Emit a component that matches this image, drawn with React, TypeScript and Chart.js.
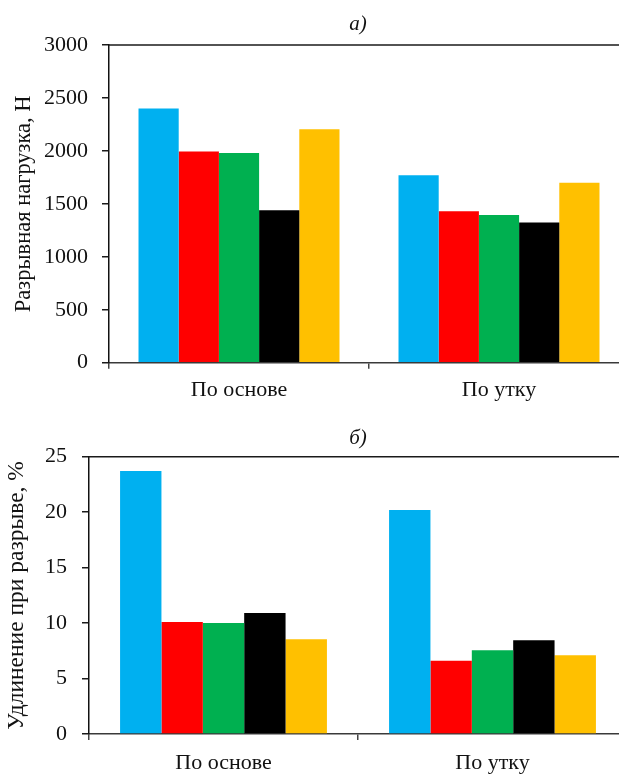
import React, { useEffect, useRef } from "react";
import { Chart, registerables } from "chart.js";

Chart.register(...registerables);

// ---- data ----
const categories = ["По основе", "По утку"];
const seriesNames = ["Образец 1", "Образец 2", "Образец 3", "Образец 4", "Образец 5"];
const seriesColors = ["#00B0F0", "#FF0000", "#00B050", "#000000", "#FFC000"];

const loadS1 = [2400, 1770];
const loadS2 = [1995, 1430];
const loadS3 = [1980, 1395];
const loadS4 = [1440, 1325];
const loadS5 = [2205, 1700];

const elongS1 = [23.7, 20.2];
const elongS2 = [10.1, 6.6];
const elongS3 = [10.0, 7.55];
const elongS4 = [10.9, 8.45];
const elongS5 = [8.55, 7.1];

const loadAxis = { min: 0, max: 3000, step: 500 };
const elongAxis = { min: 0, max: 25, step: 5 };

const titleA = "а)";
const titleB = "б)";
const yTitleA = "Разрывная нагрузка, Н";
const yTitleB = "Удлинение при разрыве, %";

const FONT = "'Liberation Serif', 'Times New Roman', serif";

const topBorder = {
  id: "topBorder",
  afterDraw(chart: any) {
    const { ctx, chartArea } = chart;
    ctx.save();
    ctx.strokeStyle = "#1a1a1a";
    ctx.lineWidth = 1.5;
    ctx.beginPath();
    ctx.moveTo(chartArea.left, chartArea.top);
    ctx.lineTo(chartArea.right + 20, chartArea.top);
    ctx.stroke();
    ctx.restore();
  },
};

type PanelProps = {
  series: number[][];
  axis: { min: number; max: number; step: number };
  yTitle: string;
  yTitleSize: number;
  width: number;
  height: number;
  padTop: number;
  yAxisWidth: number;
  xAxisHeight: number;
  yTickPad: number;
  yTitlePad: number;
  xTickPad: number;
  catPct: number;
};

function BarPanel(p: PanelProps) {
  const ref = useRef<HTMLCanvasElement | null>(null);
  useEffect(() => {
    if (!ref.current) return;
    const chart = new Chart(ref.current, {
      type: "bar",
      data: {
        labels: categories,
        datasets: p.series.map((vals, i) => ({
          label: seriesNames[i],
          data: vals,
          backgroundColor: seriesColors[i],
          borderWidth: 0,
          categoryPercentage: p.catPct,
          barPercentage: 1,
        })),
      },
      options: {
        responsive: false,
        animation: false,
        devicePixelRatio: 1,
        layout: { padding: { top: p.padTop, left: 0, right: 0, bottom: 0 } },
        plugins: {
          legend: { display: false },
          title: { display: false },
          tooltip: { enabled: false },
        },
        scales: {
          x: {
            type: "category",
            grid: {
              display: true,
              offset: true,
              drawOnChartArea: false,
              drawTicks: true,
              tickLength: 6,
              color: "#444",
              lineWidth: 1.5,
            },
            border: { display: true, color: "#3a3a3a", width: 1.5 },
            ticks: {
              color: "#111",
              padding: p.xTickPad,
              font: { family: FONT, size: 22 },
              maxRotation: 0,
            },
            afterFit(scale: any) {
              scale.height = p.xAxisHeight;
            },
          },
          y: {
            min: p.axis.min,
            max: p.axis.max,
            grid: {
              display: true,
              drawOnChartArea: false,
              drawTicks: true,
              tickLength: 7,
              color: "#1a1a1a",
              lineWidth: 1.5,
            },
            border: { display: true, color: "#111", width: 1.5 },
            ticks: {
              stepSize: p.axis.step,
              color: "#111",
              padding: p.yTickPad,
              font: { family: FONT, size: 22 },
              callback: (v: any) => String(v),
            },
            title: {
              display: true,
              text: p.yTitle,
              color: "#111",
              font: { family: FONT, size: p.yTitleSize },
              padding: { top: p.yTitlePad, bottom: 0 },
            },
            afterFit(scale: any) {
              scale.width = p.yAxisWidth;
            },
          },
        },
      },
      plugins: [topBorder],
    });
    return () => chart.destroy();
  }, []);
  return (
    <canvas
      ref={ref}
      width={p.width}
      height={p.height}
      style={{ display: "block", width: p.width, height: p.height }}
    />
  );
}

const titleStyle: React.CSSProperties = {
  position: "absolute",
  left: 0,
  width: 716,
  textAlign: "center",
  fontFamily: FONT,
  fontStyle: "italic",
  fontSize: 21,
  lineHeight: "24px",
  color: "#111",
};

export default function App() {
  return (
    <div
      style={{
        position: "fixed",
        left: 0,
        top: 0,
        width: 619,
        height: 774,
        overflow: "hidden",
        background: "#fff",
      }}
    >
      <div style={{ position: "absolute", left: 0, top: 0 }}>
        <BarPanel
          series={[loadS1, loadS2, loadS3, loadS4, loadS5]}
          axis={loadAxis}
          yTitle={yTitleA}
          yTitleSize={22.5}
          width={629}
          height={405}
          padTop={45}
          yAxisWidth={109}
          xAxisHeight={42.3}
          yTickPad={14}
          yTitlePad={11}
          xTickPad={8}
          catPct={0.773}
        />
      </div>
      <div style={{ position: "absolute", left: 0, top: 405 }}>
        <BarPanel
          series={[elongS1, elongS2, elongS3, elongS4, elongS5]}
          axis={elongAxis}
          yTitle={yTitleB}
          yTitleSize={23.5}
          width={627}
          height={369}
          padTop={51.7}
          yAxisWidth={89}
          xAxisHeight={40}
          yTickPad={15}
          yTitlePad={3}
          xTickPad={10}
          catPct={0.769}
        />
      </div>
      <div style={{ ...titleStyle, top: 11 }}>{titleA}</div>
      <div style={{ ...titleStyle, top: 425 }}>{titleB}</div>
    </div>
  );
}
